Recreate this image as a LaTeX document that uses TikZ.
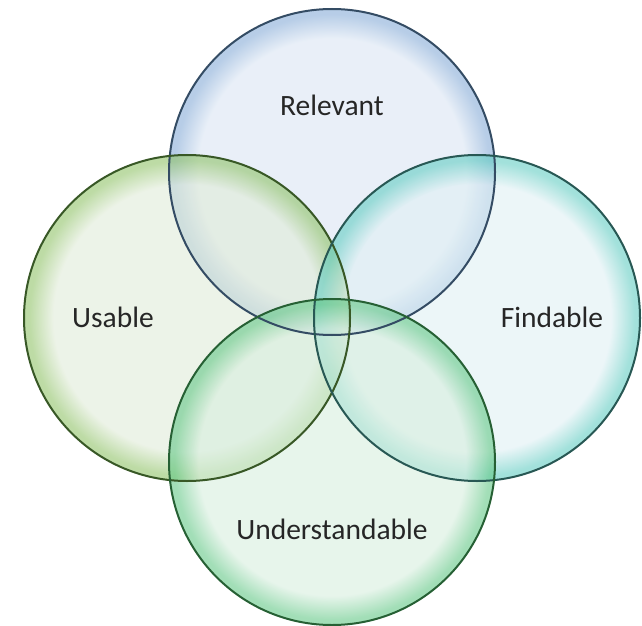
\documentclass[tikz,border=0pt]{standalone}
\usepackage{fontspec}
\setmainfont{Carlito}
\definecolor{relf}{RGB}{218,229,243}
\definecolor{relr}{RGB}{135,172,215}
\definecolor{rell}{RGB}{52,76,100}
\definecolor{usef}{RGB}{224,235,216}
\definecolor{user}{RGB}{145,195,105}
\definecolor{usel}{RGB}{56,88,38}
\definecolor{finf}{RGB}{224,240,244}
\definecolor{finr}{RGB}{100,205,195}
\definecolor{finl}{RGB}{40,88,84}
\definecolor{undf}{RGB}{215,238,222}
\definecolor{undr}{RGB}{100,200,135}
\definecolor{undl}{RGB}{38,96,52}
\pgfdeclareradialshading{relshade}{\pgfpointorigin}{color(0bp)=(relf); color(20.5bp)=(relf); color(24.2bp)=(relr); color(25bp)=(relr); color(50bp)=(relr)}
\pgfdeclareradialshading{useshade}{\pgfpointorigin}{color(0bp)=(usef); color(20.5bp)=(usef); color(24.2bp)=(user); color(25bp)=(user); color(50bp)=(user)}
\pgfdeclareradialshading{finshade}{\pgfpointorigin}{color(0bp)=(finf); color(20.5bp)=(finf); color(24.2bp)=(finr); color(25bp)=(finr); color(50bp)=(finr)}
\pgfdeclareradialshading{undshade}{\pgfpointorigin}{color(0bp)=(undf); color(20.5bp)=(undf); color(24.2bp)=(undr); color(25bp)=(undr); color(50bp)=(undr)}
\begin{document}
\begin{tikzpicture}[x=1bp,y=-1bp,
  bubble/.style={circle, minimum size=326bp, inner sep=0pt, fill opacity=0.6},
  rim/.style={line width=2bp},
  lab/.style={font=\fontsize{29.5bp}{32bp}\selectfont, text=black!85, inner sep=0pt}]
\useasboundingbox (0,0) rectangle (642,626);
\node[bubble, shading=relshade] (rel) at (332,172) {};
\node[bubble, shading=useshade] (use) at (187,318) {};
\node[bubble, shading=finshade] (fin) at (477,318) {};
\node[bubble, shading=undshade] (und) at (332,462) {};
\draw[rim, draw=rell] (rel.center) circle[radius=163];
\draw[rim, draw=usel] (use.center) circle[radius=163];
\draw[rim, draw=finl] (fin.center) circle[radius=163];
\draw[rim, draw=undl] (und.center) circle[radius=163];
\node[lab] (trel) at (332,105) {Relevant};
\node[lab] (tuse) at (113,317) {Usable};
\node[lab] (tfin) at (552,317) {Findable};
\node[lab] (tund) at (332,529) {Understandable};
\end{tikzpicture}
\end{document}
